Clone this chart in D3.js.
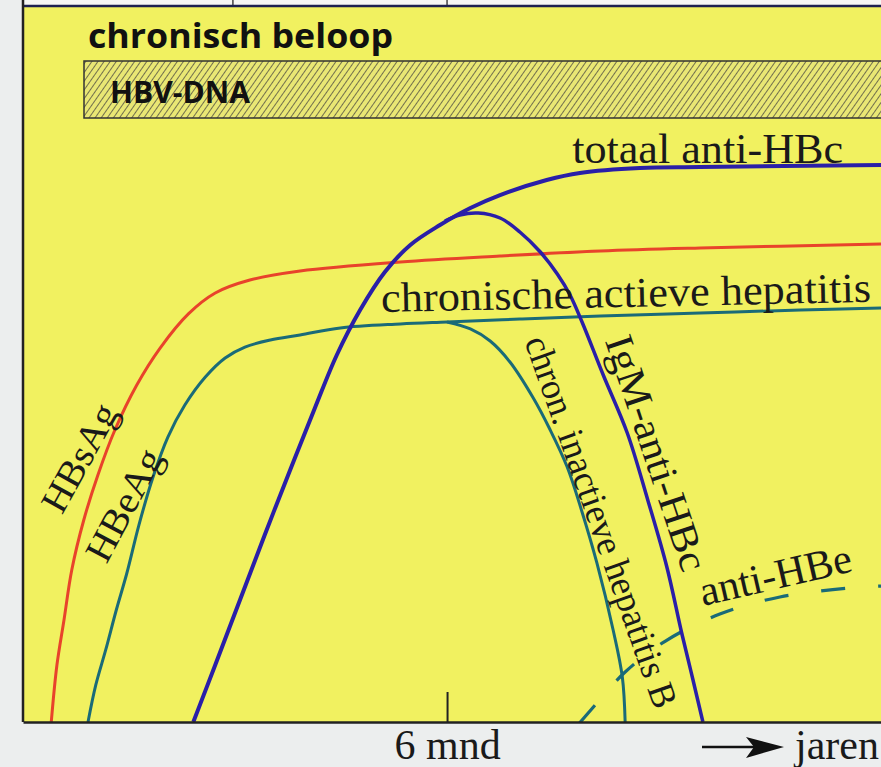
<!DOCTYPE html>
<html>
<head>
<meta charset="utf-8">
<script src="https://cdn.jsdelivr.net/npm/d3@7"></script>
<style>
body { margin: 0; background: #eceeee; }
svg { display: block; }
</style>
</head>
<body>
<div id="chart-container"></div>
<script>
// schematic time (months, 6 = "6 mnd") and relative level (0-100)
var hbsagTime  = [0.40, 0.48, 0.58, 0.69, 0.86, 1.06, 1.30, 1.61, 1.94, 2.34, 2.72, 3.21, 3.92, 5.34, 6.75, 8.17, 9.58, 12.14];
var hbsagLevel = [0, 7.96, 14.25, 21.23, 28.21, 34.50, 40.78, 47.07, 52.23, 57.0, 59.92, 61.73, 62.99, 64.25, 65.08, 65.78, 66.20, 66.76];

var hbeagTime  = [0.92, 1.03, 1.17, 1.32, 1.47, 1.64, 1.84, 2.05, 2.29, 2.58, 2.86, 3.14, 3.50, 3.92, 4.49, 5.34, 6.0, 7.03, 8.17, 9.58, 11.0, 12.14];
var hbeagLevel = [0, 5.17, 10.06, 15.64, 20.81, 27.51, 34.22, 39.80, 44.27, 48.18, 50.84, 52.37, 53.35, 54.05, 55.03, 55.59, 55.87, 56.28, 56.70, 57.12, 57.54, 57.82];

// chron. inactieve hepatitis B: HBeAg falls after 6 mnd
var inactiveTime  = [6.0, 6.33, 6.61, 6.89, 7.22, 7.46, 7.70, 7.91, 8.12, 8.35, 8.48, 8.52];
var inactiveLevel = [55.87, 54.89, 53.21, 50.28, 45.25, 40.78, 35.61, 29.33, 22.21, 12.85, 6.28, 0];

var totalTime  = [2.41, 2.72, 3.07, 3.42, 3.78, 4.13, 4.44, 4.77, 5.12, 5.48, 5.90, 6.33, 6.75, 7.41, 7.88, 8.73, 9.58, 12.14];
var totalLevel = [0, 7.96, 17.04, 26.12, 35.20, 43.85, 51.26, 57.54, 62.85, 66.62, 69.41, 71.79, 73.60, 75.70, 76.68, 77.37, 77.51, 77.79];

var igmTime  = [5.97, 6.18, 6.44, 6.75, 7.03, 7.32, 7.56, 7.74, 7.91, 8.21, 8.55, 8.84, 9.11, 9.32, 9.48, 9.62];
var igmLevel = [69.97, 70.81, 71.09, 70.39, 68.44, 65.64, 62.57, 59.64, 55.87, 48.46, 40.36, 31.01, 21.65, 12.43, 5.87, 0];

var antiHbeTime  = [7.85, 8.17, 8.52, 9.09, 9.86, 10.71, 11.84, 12.14];
var antiHbeLevel = [-0.42, 3.21, 6.98, 11.31, 15.08, 17.46, 18.85, 18.99];

var tickMonths = [6];

var W = 881, H = 767;
var mLeft = 23, mTop = 6, mBottom = 722;

var svg = d3.select("#chart-container")
    .append("svg")
    .attr("width", W)
    .attr("height", H);

var x = d3.scaleLinear().domain([0, 12.14]).range([mLeft, W]);
var y = d3.scaleLinear().domain([0, 100]).range([mBottom, mTop]);

var defs = svg.append("defs");
defs.append("clipPath").attr("id", "plot")
    .append("rect").attr("x", mLeft).attr("y", mTop).attr("width", W - mLeft).attr("height", mBottom - mTop);

var hatch = defs.append("pattern")
    .attr("id", "hatch")
    .attr("patternUnits", "userSpaceOnUse")
    .attr("width", 5).attr("height", 5)
    .attr("patternTransform", "rotate(35)");
hatch.append("rect").attr("width", 5).attr("height", 5).attr("fill", "#e9e774");
hatch.append("line").attr("x1", 0.5).attr("y1", 0).attr("x2", 0.5).attr("y2", 5)
    .attr("stroke", "#646248").attr("stroke-width", 0.9);

// white strip above the plot
svg.append("rect").attr("x", mLeft).attr("y", 0).attr("width", W - mLeft).attr("height", mTop)
    .attr("fill", "#f6f7f4");

// yellow plot background
svg.append("rect")
    .attr("x", mLeft).attr("y", mTop)
    .attr("width", W - mLeft).attr("height", mBottom - mTop)
    .attr("fill", "#f1f160");

// top strip dividers
[x(0), x(2.97), x(6)].forEach(function(px) {
    svg.append("line").attr("x1", px).attr("x2", px).attr("y1", 0).attr("y2", mTop)
        .attr("stroke", "#444").attr("stroke-width", 1.5);
});
svg.append("line").attr("x1", mLeft).attr("x2", W).attr("y1", mTop).attr("y2", mTop)
    .attr("stroke", "#1d2150").attr("stroke-width", 2.5);
svg.append("line").attr("x1", mLeft).attr("x2", mLeft).attr("y1", 0).attr("y2", mBottom)
    .attr("stroke", "#222").attr("stroke-width", 2.5);

// title and HBV-DNA bar
svg.append("text")
    .attr("x", 88).attr("y", 48)
    .attr("font-family", "'Open Sans', sans-serif")
    .attr("font-weight", 700)
    .attr("font-size", 34)
    .attr("textLength", 305)
    .attr("lengthAdjust", "spacingAndGlyphs")
    .attr("fill", "#111")
    .text("chronisch beloop");

svg.append("rect")
    .attr("x", 84).attr("y", 61)
    .attr("width", W - 84 + 5).attr("height", 57)
    .attr("fill", "url(#hatch)")
    .attr("stroke", "#333").attr("stroke-width", 1.5);

svg.append("text")
    .attr("x", 110).attr("y", 103)
    .attr("font-family", "'Open Sans', sans-serif")
    .attr("font-weight", 700)
    .attr("font-size", 30)
    .attr("textLength", 140)
    .attr("lengthAdjust", "spacingAndGlyphs")
    .attr("fill", "#111")
    .text("HBV-DNA");

// curves
var line = d3.line()
    .x(function(d) { return x(d[0]); })
    .y(function(d) { return y(d[1]); })
    .curve(d3.curveCatmullRom.alpha(0.5));

function pts(t, v) { return t.map(function(d, i) { return [d, v[i]]; }); }

var curves = svg.append("g").attr("clip-path", "url(#plot)");

curves.append("path").datum(pts(hbsagTime, hbsagLevel))
    .attr("d", line).attr("fill", "none").attr("stroke", "#e8432b").attr("stroke-width", 3);
curves.append("path").datum(pts(hbeagTime, hbeagLevel))
    .attr("d", line).attr("fill", "none").attr("stroke", "#1a6b78").attr("stroke-width", 3);
curves.append("path").datum(pts(inactiveTime, inactiveLevel))
    .attr("d", line).attr("fill", "none").attr("stroke", "#1a6b78").attr("stroke-width", 3);
curves.append("path").datum(pts(antiHbeTime, antiHbeLevel))
    .attr("d", line).attr("fill", "none").attr("stroke", "#1a6b78").attr("stroke-width", 3.2)
    .attr("stroke-dasharray", "24,33").attr("stroke-dashoffset", -2);
curves.append("path").datum(pts(totalTime, totalLevel))
    .attr("d", line).attr("fill", "none").attr("stroke", "#2a1fa8").attr("stroke-width", 4);
curves.append("path").datum(pts(igmTime, igmLevel))
    .attr("d", line).attr("fill", "none").attr("stroke", "#2a1fa8").attr("stroke-width", 3.5);

// labels
var serif = "'Liberation Serif', 'Times New Roman', serif";

function label(text, xv, yv, rot, size, len, anchor) {
    var px = x(xv), py = y(yv);
    var t = svg.append("text")
        .attr("transform", "translate(" + px + "," + py + ") rotate(" + rot + ")")
        .attr("font-family", serif)
        .attr("font-size", size)
        .attr("fill", "#1a1a1a")
        .attr("text-anchor", anchor || "start")
        .text(text);
    if (anchor === "middle") t.attr("dy", "0.33em");
    if (len) t.attr("textLength", len).attr("lengthAdjust", "spacingAndGlyphs");
    return t;
}

label("totaal anti-HBc", 7.77, 78.07, 0, 42, 271);
label("chronische actieve hepatitis", 5.07, 57.26, -1.2, 42, 490);
label("HBsAg", 0.80, 36.9, -61, 38, 118, "middle");
label("HBeAg", 1.43, 30.3, -62, 38, 122, "middle");
label("IgM-anti-HBc", 8.96, 37.57, 71.5, 40, 246, "middle");
label("chron. inactieve hepatitis B", 8.18, 27.93, 70.5, 37, 392, "middle");
label("anti-HBe", 9.62, 16.20, -13, 42, 155);

// x axis: single inner tick at 6 mnd
var xAxis = d3.axisBottom(x)
    .tickValues(tickMonths)
    .tickFormat(function(d) { return d + " mnd"; })
    .tickSizeInner(-30)
    .tickSizeOuter(0)
    .tickPadding(7);

var ax = svg.append("g")
    .attr("transform", "translate(0," + mBottom + ")")
    .call(xAxis);
ax.select(".domain").attr("stroke", "#222").attr("stroke-width", 2.5);
ax.selectAll(".tick line").attr("stroke", "#222").attr("stroke-width", 2);
ax.selectAll(".tick text")
    .attr("font-family", serif)
    .attr("font-size", 42)
    .attr("fill", "#1a1a1a");

// arrow -> jaren
svg.append("line").attr("x1", 702).attr("x2", 758).attr("y1", 747).attr("y2", 747)
    .attr("stroke", "#111").attr("stroke-width", 2.5);
svg.append("path")
    .attr("d", "M746,737 L784,747 L746,758 L754,747 Z")
    .attr("fill", "#111");
svg.append("text")
    .attr("x", 795).attr("y", 759)
    .attr("font-family", serif)
    .attr("font-size", 42)
    .attr("fill", "#1a1a1a")
    .text("jaren");
</script>
</body>
</html>
